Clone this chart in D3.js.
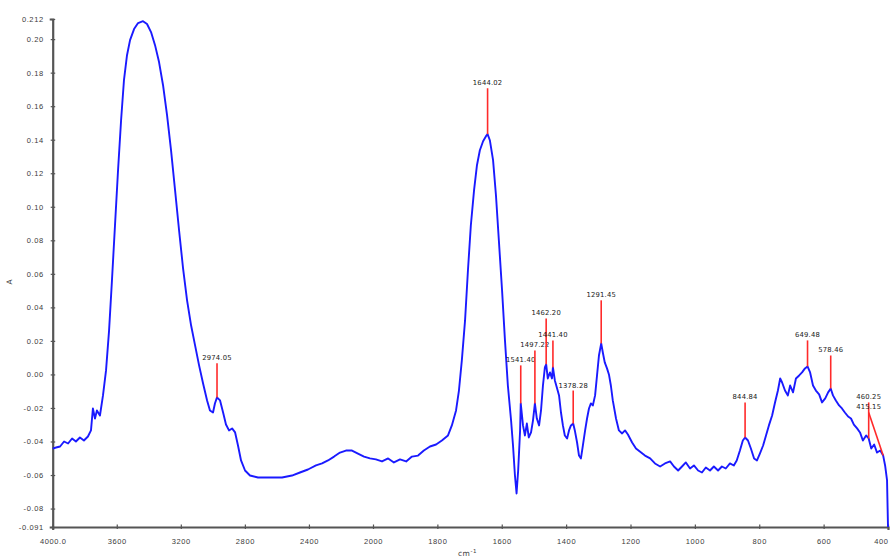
<!DOCTYPE html>
<html><head><meta charset="utf-8">
<script src="https://cdn.jsdelivr.net/npm/d3@7"></script>
<style>html,body{margin:0;padding:0;background:#fff;overflow:hidden}</style>
</head><body>
<script>
// Spectrum (wavenumber cm-1, absorbance)
const wavenumbers = [4000,3979,3954,3929,3904,3879,3855,3830,3805,3780,3761,3749,3736,3724,3705,3686,3667,3648,3630,3611,3592,3573,3555,3536,3517,3492,3467,3436,3411,3386,3361,3336,3311,3286,3261,3236,3211,3186,3161,3136,3111,3086,3061,3036,3018,2999,2987,2974,2955,2936,2918,2899,2880,2861,2843,2824,2799,2768,2718,2643,2568,2506,2456,2406,2356,2318,2281,2243,2206,2169,2131,2094,2056,2019,
1991,1972,1953,1935,1916,1897,1879,1860,1842,1823,1804,1786,1767,1755,1742,1733,1724,1714,1705,1696,1686,1677,1668,1658,1649,1644,1637,1627,1618,1609,1599,1590,1581,1571,1565,1559,1554,1549,1543,1541,1534,1528,1522,1516,1509,1503,1497,1491,1484,1478,1472,1466,1462,1457,1450,1444,1441,1435,1428,1422,1416,1410,1404,1397,1391,1385,1378,1373,1366,1360,1354,1348,1341,1335,1329,1323,1317,1310,1304,1298,1291,1286,1280,1273,1267,1261,1255,1245,1236,1226,1217,1208,1195,1183,1171,1155,1139,1124,1108,1093,1077,1065,1052,1040,1028,1015,1003,990,978,966,953,941,928,916,904,891,879,870,860,851,844,835,826,816,807,798,788,779,770,760,751,742,735,729,720,711,704,695,686,676,667,658,650,642,633,624,614,605,595,586,578,571,562,552,543,534,524,515,506,496,487,478,468,460,452,443,434,424,415,409,403,400];
const absorbance = [-0.0442,-0.0436,-0.043,-0.040,-0.0412,-0.0382,-0.040,-0.0376,-0.0394,-0.037,-0.0334,-0.0203,-0.0263,-0.0215,-0.0245,-0.0125,0.0024,0.0263,0.056,0.089,0.1218,0.1516,0.1755,0.1904,0.1994,0.206,0.2096,0.2107,0.209,0.2042,0.1964,0.1863,0.1725,0.1546,0.1337,0.1099,0.086,0.0633,0.0442,0.0293,0.0173,0.0054,-0.0054,-0.0155,-0.0215,-0.0227,-0.0173,-0.0137,-0.0155,-0.0227,-0.0299,-0.0334,-0.0322,-0.0346,-0.0424,-0.0513,-0.0573,-0.0603,-0.0615,-0.0615,-0.0615,-0.0603,-0.0585,-0.0567,-0.0543,-0.0531,-0.0513,-0.049,-0.0466,-0.0454,-0.0454,-0.0472,-0.049,-0.0501,
-0.0507,-0.0519,-0.0501,-0.0525,-0.0507,-0.0519,-0.049,-0.0484,-0.0454,-0.043,-0.0418,-0.0394,-0.0364,-0.0304,-0.0215,-0.0096,0.0084,0.0322,0.0621,0.089,0.1099,0.1248,0.1337,0.1391,0.1421,0.1433,0.1397,0.1278,0.1069,0.08,0.0501,0.0203,-0.0066,-0.0275,-0.0424,-0.0603,-0.071,-0.0573,-0.0334,-0.0173,-0.0304,-0.0364,-0.0293,-0.0376,-0.0346,-0.0275,-0.0173,-0.0263,-0.0304,-0.0215,-0.0066,0.0042,0.006,-0.0024,0.0012,-0.0024,0.0042,-0.0036,-0.0084,-0.0125,-0.0227,-0.0304,-0.0364,-0.0382,-0.0334,-0.0304,-0.0293,-0.0334,-0.0406,-0.0484,-0.0501,-0.0424,-0.0334,-0.0263,-0.0203,-0.0173,-0.0185,-0.0125,-0.0006,0.0113,0.0185,0.0131,0.0072,0.0036,0,-0.0066,-0.0155,-0.0263,-0.0334,-0.0352,-0.0334,-0.0358,-0.0406,-0.0442,-0.046,-0.0484,-0.0501,-0.0531,-0.0549,-0.0531,-0.0519,-0.0549,-0.0573,-0.0549,-0.0525,-0.0561,-0.0543,-0.0573,-0.0585,-0.0555,-0.0573,-0.0549,-0.0573,-0.0549,-0.0561,-0.0531,-0.0543,-0.0513,-0.0454,-0.0394,-0.0376,-0.0394,-0.0442,-0.0501,-0.0513,-0.0472,-0.0424,-0.0364,-0.0304,-0.0245,-0.0167,-0.0096,-0.0024,-0.0048,-0.0096,-0.0125,-0.0066,-0.0107,-0.0024,-0.0006,0.0012,0.0036,0.0048,0.0012,-0.0066,-0.0096,-0.0119,-0.0167,-0.0143,-0.0107,-0.0084,-0.0125,-0.0155,-0.0185,-0.0203,-0.0227,-0.0251,-0.0263,-0.0299,-0.0322,-0.0346,-0.0394,-0.0364,-0.0382,-0.0442,-0.0418,-0.0466,-0.0454,-0.0484,-0.0543,-0.063,-0.091];

// Peak annotations
const peakWn     = [2974, 1644, 1541, 1497, 1462, 1441, 1378, 1291, 844, 650, 578, 460, 415];
const peakLabels = ["2974.05","1644.02","1541.40","1497.22","1462.20","1441.40","1378.28","1291.45","844.84","649.48","578.46","460.25","415.15"];
const peakLabelWn  = [2974, 1644, 1541, 1497, 1462, 1441, 1378, 1291, 844, 650, 578, 460, 460];
const peakLabelAbs = [0.0066, 0.1707, 0.0054, 0.0143, 0.0334, 0.0203, -0.0096, 0.0442, -0.0167, 0.0203, 0.0113, -0.0167, -0.0227];

// Axis ticks
const xTicks = [4000,3600,3200,2800,2400,2000,1800,1600,1400,1200,1000,800,600,400];
const xTickLabels = ["4000.0","3600","3200","2800","2400","2000","1800","1600","1400","1200","1000","800","600","400"];
const yTicks = [0.212,0.20,0.18,0.16,0.14,0.12,0.10,0.08,0.06,0.04,0.02,0.00,-0.02,-0.04,-0.06,-0.08,-0.091];
const yTickLabels = ["0.212","0.20","0.18","0.16","0.14","0.12","0.10","0.08","0.06","0.04","0.02","0.00","-0.02","-0.04","-0.06","-0.08","-0.091"];

const W = 892, H = 558;
const svg = d3.select("body").append("svg").attr("width", W).attr("height", H)
  .style("font-family", "'DejaVu Sans', sans-serif");

const x = d3.scaleLinear().domain([4000, 2000, 400]).range([52.7, 373, 888]);
const y = d3.scaleLinear().domain([-0.091, 0.212]).range([527, 19]);

const axisColor = "#555";
const textColor = "#3a3a3a";

// Y axis
const yAxis = svg.append("g").attr("transform", `translate(${x(4000)},0)`)
  .call(d3.axisLeft(y).tickValues(yTicks).tickSize(3).tickFormat((d,i) => yTickLabels[i]));
yAxis.select(".domain").attr("stroke", axisColor).attr("stroke-width", 2.2);
yAxis.selectAll(".tick line").attr("stroke", axisColor).attr("stroke-width", 1.2).attr("x1", 2.5).attr("x2", -2);
yAxis.selectAll(".tick text").attr("x", -9).attr("font-size", 7.5).attr("letter-spacing", 0.6).attr("fill", textColor);

// X axis
const xAxis = svg.append("g").attr("transform", `translate(0,${y(-0.091)})`)
  .call(d3.axisBottom(x).tickValues(xTicks).tickSize(3).tickFormat((d,i) => xTickLabels[i]));
xAxis.select(".domain").attr("stroke", axisColor).attr("stroke-width", 2.2);
xAxis.selectAll(".tick line").attr("stroke", axisColor).attr("stroke-width", 1.2).attr("y1", -2.5).attr("y2", 2);
xAxis.selectAll(".tick text").attr("y", 12).attr("font-size", 7.5).attr("letter-spacing", 0.6).attr("fill", textColor)
  .attr("text-anchor", (d,i) => i === xTicks.length - 1 ? "end" : "middle");

// Axis titles
svg.append("text").attr("x", 10).attr("y", 284).attr("font-size", 7.5).attr("fill", textColor)
  .attr("transform", "rotate(-90,10,282)").attr("text-anchor", "middle").text("A");
const xt = svg.append("text").attr("x", 458).attr("y", 556).attr("font-size", 7.5).attr("fill", textColor)
  .attr("letter-spacing", 0.5);
xt.append("tspan").text("cm");
xt.append("tspan").attr("dy", -3).attr("font-size", 5.5).text("-1");

// Spectrum
const pts = wavenumbers.map((w, i) => [w, absorbance[i]]);
svg.append("path").datum(pts)
  .attr("fill", "none").attr("stroke", "#1a1aff").attr("stroke-width", 1.9)
  .attr("stroke-linejoin", "round")
  .attr("d", d3.line().x(d => x(d[0])).y(d => y(d[1])));

// Peak markers
function absAt(w) {
  let best = 0, bd = 1e9;
  wavenumbers.forEach((v, i) => { const dd = Math.abs(v - w); if (dd < bd) { bd = dd; best = i; } });
  return absorbance[best];
}
const g = svg.append("g");
peakWn.forEach((w, i) => {
  g.append("line")
    .attr("x1", x(w)).attr("y1", y(absAt(w)))
    .attr("x2", x(peakLabelWn[i])).attr("y2", y(peakLabelAbs[i]))
    .attr("stroke", "#ff2a2a").attr("stroke-width", 1.6);
  g.append("text")
    .attr("x", x(peakLabelWn[i])).attr("y", y(peakLabelAbs[i]) - 3)
    .attr("text-anchor", "middle").attr("font-size", 6.8).attr("letter-spacing", 0.2).attr("fill", "#222")
    .text(peakLabels[i]);
});
</script>
</body></html>
